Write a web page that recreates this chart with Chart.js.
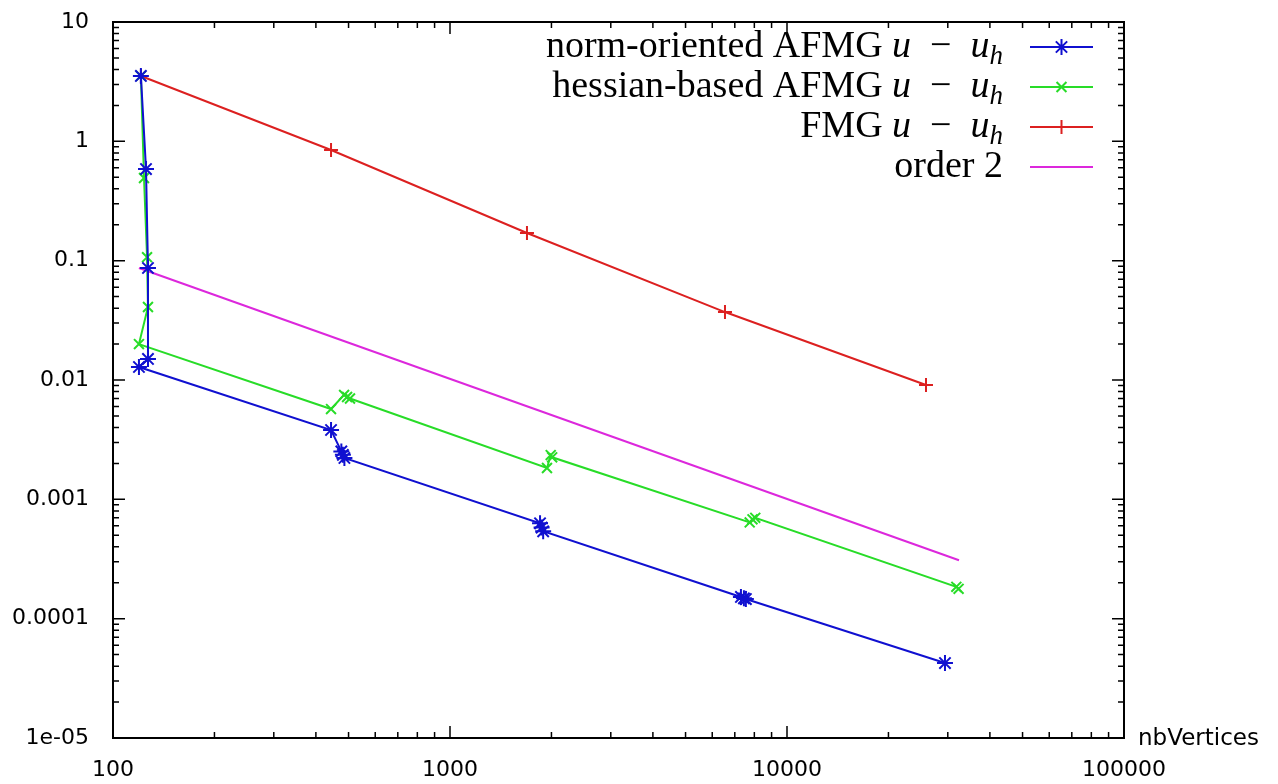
<!DOCTYPE html>
<html>
<head>
<meta charset="utf-8">
<title>AFMG convergence</title>
<script src="https://cdn.jsdelivr.net/npm/chart.js@4.4.0/dist/chart.umd.min.js"></script>
<style>
    html, body { margin: 0; padding: 0; background: #fff; }
    #wrap { width: 1278px; height: 784px; }
</style>
</head>
<body>
<div id="wrap"><canvas id="chart" width="1278" height="784"></canvas></div>
<script>
// values: x = nbVertices, y = error
const normX = [121, 125.3, 127, 127, 119.4, 443.6, 476, 481, 486, 1850, 1870, 1890, 7300, 7450, 7550, 29430];
const normY = [3.53, 0.586, 0.0868, 0.0150, 0.01285, 0.00381, 0.00252, 0.00236, 0.00222, 0.00063, 0.00058, 0.00054, 0.000152, 0.000148, 0.000146, 0.0000425];

const hessX = [121, 123.6, 126.2, 127, 119.4, 443.6, 485, 495, 505, 1940, 1990, 2010, 7750, 7900, 8050, 31800, 32300];
const hessY = [3.53, 0.493, 0.107, 0.0409, 0.0200, 0.00571, 0.0075, 0.0072, 0.0070, 0.00183, 0.00235, 0.00225, 0.00064, 0.00068, 0.00070, 0.000185, 0.000178];

const fmgX = [121, 443.6, 1692, 6546, 25850];
const fmgY = [3.53, 0.846, 0.1706, 0.0371, 0.00908];

const orderX = [119.4, 32390];
const orderY = [0.0868, 0.000309];

const seriesNames = ["norm-oriented AFMG", "hessian-based AFMG", "FMG", "order 2"];
const seriesIsError = [true, true, true, false];

const xTickValues = [100, 1000, 10000, 100000];
const xTickLabels = ["100", "1000", "10000", "100000"];
const yTickValues = [1e-5, 1e-4, 1e-3, 1e-2, 1e-1, 1, 10];
const yTickLabels = ["1e-05", "0.0001", "0.001", "0.01", "0.1", "1", "10"];
const xAxisName = "nbVertices";

const tickFont = { family: "DejaVu Sans", size: 22 };

function toPoints(xs, ys) {
    return xs.map((x, i) => ({ x: x, y: ys[i] }));
}

// gnuplot-like frame: box round the plot, inward ticks on all sides
const framePlugin = {
    id: "frame",
    afterDraw(chart) {
        const ctx = chart.ctx;
        const area = chart.chartArea;
        const xs = chart.scales.x;
        const ys = chart.scales.y;
        ctx.save();
        ctx.strokeStyle = "#000";
        ctx.lineWidth = 2;
        ctx.strokeRect(area.left, area.top, area.right - area.left, area.bottom - area.top);

        const major = 12, minor = 6;
        ctx.lineWidth = 1.5;
        ctx.beginPath();
        const xDecades = xTickValues.slice(0, -1);
        xTickValues.forEach((v) => {
            const px = xs.getPixelForValue(v);
            ctx.moveTo(px, area.bottom); ctx.lineTo(px, area.bottom - major);
            ctx.moveTo(px, area.top); ctx.lineTo(px, area.top + major);
        });
        xDecades.forEach((d) => {
            for (let k = 2; k <= 9; k++) {
                const px = xs.getPixelForValue(k * d);
                ctx.moveTo(px, area.bottom); ctx.lineTo(px, area.bottom - minor);
                ctx.moveTo(px, area.top); ctx.lineTo(px, area.top + minor);
            }
        });
        const yDecades = yTickValues.slice(0, -1);
        yTickValues.forEach((v) => {
            const py = ys.getPixelForValue(v);
            ctx.moveTo(area.left, py); ctx.lineTo(area.left + major, py);
            ctx.moveTo(area.right, py); ctx.lineTo(area.right - major, py);
        });
        yDecades.forEach((d) => {
            for (let k = 2; k <= 9; k++) {
                const py = ys.getPixelForValue(k * d);
                ctx.moveTo(area.left, py); ctx.lineTo(area.left + minor, py);
                ctx.moveTo(area.right, py); ctx.lineTo(area.right - minor, py);
            }
        });
        ctx.stroke();

        // axis name sits to the right of the x axis
        ctx.fillStyle = "#000";
        ctx.font = '23px "' + tickFont.family + '"';
        ctx.textAlign = "left";
        ctx.textBaseline = "middle";
        ctx.fillText(xAxisName, area.right + 14, area.bottom + 1);
        ctx.restore();
    },
};

// key in the top right corner: text first, then the line sample
const keyPlugin = {
    id: "key",
    afterDraw(chart) {
        const ctx = chart.ctx;
        const roman = '38px "Liberation Serif"';
        const ital = 'italic 38px "Liberation Serif"';
        const sub = 'italic 27px "Liberation Serif"';
        const textRight = 1003;
        const lineLeft = 1030, lineRight = 1093;

        ctx.save();
        chart.data.datasets.forEach((ds, i) => {
            const base = 57 + i * 40;
            let pieces = [[seriesNames[i], roman, 0]];
            if (seriesIsError[i]) {
                pieces = [
                    [seriesNames[i] + " ", roman, 0],
                    ["u", ital, 0],
                    ["  \u2212  ", roman, 0],
                    ["u", ital, 0],
                    ["h", sub, 7],
                ];
            }
            let total = 0;
            pieces.forEach((p) => {
                ctx.font = p[1];
                total += ctx.measureText(p[0]).width;
            });
            let x = textRight - total;
            ctx.fillStyle = "#000";
            ctx.textAlign = "left";
            ctx.textBaseline = "alphabetic";
            pieces.forEach((p) => {
                ctx.font = p[1];
                ctx.fillText(p[0], x, base + p[2]);
                x += ctx.measureText(p[0]).width;
            });

            const ly = base - 10;
            ctx.strokeStyle = ds.borderColor;
            ctx.lineWidth = ds.borderWidth;
            ctx.beginPath();
            ctx.moveTo(lineLeft, ly);
            ctx.lineTo(lineRight, ly);
            ctx.stroke();
            if (ds.pointRadius > 0) {
                ctx.strokeStyle = ds.pointBorderColor;
                ctx.fillStyle = ds.pointBorderColor;
                Chart.helpers.drawPoint(ctx, {
                    pointStyle: ds.pointStyle,
                    radius: ds.pointRadius,
                    rotation: 0,
                    borderWidth: ds.pointBorderWidth,
                }, (lineLeft + lineRight) / 2, ly);
            }
        });
        ctx.restore();
    },
};

function makeSeries(xs, ys, color, style, radius) {
    return {
        data: toPoints(xs, ys),
        showLine: true,
        borderColor: color,
        backgroundColor: color,
        borderWidth: 2,
        pointStyle: style,
        pointRadius: radius,
        pointBorderColor: color,
        pointBackgroundColor: color,
        pointBorderWidth: 2,
        pointHoverRadius: radius,
        tension: 0,
    };
}

const datasets = [
    makeSeries(normX, normY, "#1010d0", "star", 8),
    makeSeries(hessX, hessY, "#28dc28", "crossRot", 7),
    makeSeries(fmgX, fmgY, "#dc2020", "cross", 7),
    makeSeries(orderX, orderY, "#dc28dc", "circle", 0),
];
datasets.forEach((ds, i) => { ds.label = seriesNames[i]; });

new Chart(document.getElementById("chart"), {
    type: "scatter",
    data: { datasets: datasets },
    options: {
        responsive: false,
        animation: false,
        devicePixelRatio: 1,
        layout: { padding: { top: 22, right: 154, bottom: 0, left: 0 } },
        plugins: {
            legend: { display: false },
            tooltip: { enabled: false },
        },
        scales: {
            x: {
                type: "logarithmic",
                min: 100,
                max: 100000,
                grid: { display: false, drawTicks: false },
                border: { display: false },
                afterBuildTicks: (scale) => {
                    scale.ticks = xTickValues.map((v) => ({ value: v }));
                },
                afterFit: (scale) => {
                    scale.height = 46;
                    scale.paddingLeft = 0;
                    scale.paddingRight = 0;
                },
                ticks: {
                    autoSkip: false,
                    maxRotation: 0,
                    padding: 19,
                    color: "#000",
                    font: tickFont,
                    callback: (value, index) => xTickLabels[index],
                },
            },
            y: {
                type: "logarithmic",
                min: 1e-5,
                max: 10,
                grid: { display: false, drawTicks: false },
                border: { display: false },
                afterBuildTicks: (scale) => {
                    scale.ticks = yTickValues.map((v) => ({ value: v }));
                },
                afterFit: (scale) => {
                    scale.width = 113;
                    scale.paddingTop = 0;
                    scale.paddingBottom = 0;
                },
                ticks: {
                    autoSkip: false,
                    padding: 24,
                    color: "#000",
                    font: tickFont,
                    callback: (value, index) => yTickLabels[index],
                },
            },
        },
    },
    plugins: [framePlugin, keyPlugin],
});
</script>
</body>
</html>
